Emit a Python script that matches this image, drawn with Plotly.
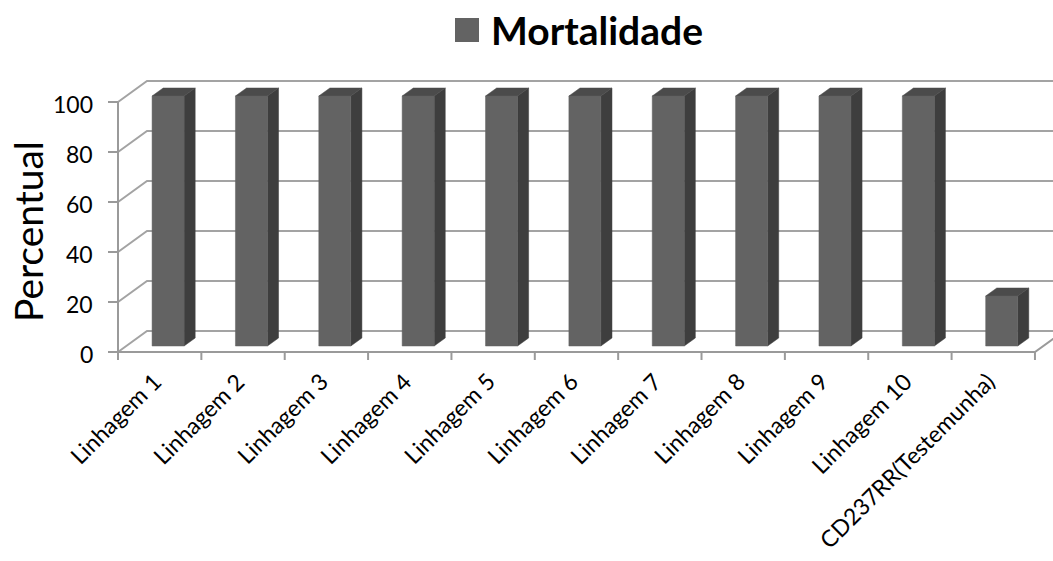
import plotly.graph_objects as go

# ---- data ----
categories = [
    "Linhagem 1", "Linhagem 2", "Linhagem 3", "Linhagem 4", "Linhagem 5",
    "Linhagem 6", "Linhagem 7", "Linhagem 8", "Linhagem 9", "Linhagem 10",
    "CD237RR(Testemunha)",
]
mortalidade = [100, 100, 100, 100, 100, 100, 100, 100, 100, 100, 20]
y_ticks = [0, 20, 40, 60, 80, 100]
series_name = "Mortalidade"
y_title = "Percentual"

# ---- canvas and pseudo-3D geometry (pixels -> axis units) ----
W, H = 1053, 561
PX_LEFT = 118      # front-left corner of the floor
PX_CAT = 83.36     # width of one category slot
PX_BASE = 352      # pixel row of value 0 on the front plane
PX_UNIT = 2.5      # pixels per percent

x_range = [-0.5 - PX_LEFT / PX_CAT, -0.5 + (W - PX_LEFT) / PX_CAT]
y_range = [-(H - PX_BASE) / PX_UNIT, PX_BASE / PX_UNIT]


def ux(px):
    return px / PX_CAT


def uy(px):
    return px / PX_UNIT


DEPTH = (ux(29), uy(21))        # offset from front plane to back wall
BAR_FRONT = (ux(8.4), uy(6))    # bar front face depth offset
BAR_BACK = (ux(19.5), uy(14))   # bar back face depth offset
BAR_HALF = ux(16)               # half width of a bar

FONT = "Lato, Carlito, Calibri, sans-serif"
GRID = "#a3a3a3"
AXIS = "#9a9a9a"
C_FRONT = "#636363"
C_SIDE = "#3e3e3e"
C_TOP = "#4b4b4b"

n = len(categories)
x_left, x_right = -0.5, n - 0.5

fig = go.Figure()

# back wall gridlines + left wall diagonals
gx, gy = [], []
for t in y_ticks:
    gx += [x_left, x_left + DEPTH[0], x_right + DEPTH[0], None]
    gy += [t, t + DEPTH[1], t + DEPTH[1], None]
fig.add_trace(go.Scatter(x=gx, y=gy, mode="lines",
                         line=dict(color=GRID, width=2), hoverinfo="skip"))

# front axis lines, floor edge and ticks
ax, ay = [], []
ax += [x_left, x_left, None]
ay += [y_ticks[0], y_ticks[-1], None]
ax += [x_left, x_right, x_right + DEPTH[0], None]
ay += [0, 0, DEPTH[1], None]
for t in y_ticks:
    ax += [x_left - ux(10), x_left, None]
    ay += [t, t, None]
for k in range(n + 1):
    ax += [k - 0.5, k - 0.5, None]
    ay += [0, -uy(8), None]
fig.add_trace(go.Scatter(x=ax, y=ay, mode="lines",
                         line=dict(color=AXIS, width=2), hoverinfo="skip"))

# bars: front, side and top faces
fx, fy, sx, sy, tx, ty = [], [], [], [], [], []
for i, v in enumerate(mortalidade):
    xl = i + BAR_FRONT[0] - BAR_HALF
    xr = i + BAR_FRONT[0] + BAR_HALF
    yb = BAR_FRONT[1]
    ddx = BAR_BACK[0] - BAR_FRONT[0]
    ddy = BAR_BACK[1] - BAR_FRONT[1]
    fx += [xl, xr, xr, xl, xl, None]
    fy += [yb, yb, yb + v, yb + v, yb, None]
    sx += [xr, xr + ddx, xr + ddx, xr, xr, None]
    sy += [yb, yb + ddy, yb + ddy + v, yb + v, yb, None]
    tx += [xl, xl + ddx, xr + ddx, xr, xl, None]
    ty += [yb + v, yb + ddy + v, yb + ddy + v, yb + v, yb + v, None]

for px_, py_, col in ((sx, sy, C_SIDE), (tx, ty, C_TOP), (fx, fy, C_FRONT)):
    fig.add_trace(go.Scatter(x=px_, y=py_, mode="lines", fill="toself",
                             fillcolor=col, line=dict(color=col, width=0.5),
                             hoverinfo="skip"))

annotations = []
# y tick labels
for t in y_ticks:
    annotations.append(dict(x=x_left, y=t, xref="x", yref="y", text=str(t),
                            showarrow=False, xanchor="right", yanchor="middle",
                            xshift=-23, yshift=-2,
                            font=dict(family=FONT, size=23, color="#000")))
# category labels
for i, c in enumerate(categories):
    annotations.append(dict(x=i, y=-uy(12), xref="x", yref="y", text=c,
                            showarrow=False, textangle=-45,
                            xanchor="right", yanchor="top", xshift=10,
                            font=dict(family=FONT, size=23, color="#000")))
# axis title
annotations.append(dict(x=28 / W, y=1 - 232 / H, xref="paper", yref="paper",
                        text=y_title, showarrow=False, textangle=-90,
                        xanchor="center", yanchor="middle",
                        font=dict(family=FONT, size=39, color="#000")))
# legend
annotations.append(dict(x=489 / W, y=1 - 30 / H, xref="paper", yref="paper",
                        text="<b>" + series_name + "</b>", showarrow=False,
                        xanchor="left", yanchor="middle",
                        font=dict(family=FONT, size=39, color="#000")))

fig.update_layout(
    width=W, height=H,
    margin=dict(l=0, r=0, t=0, b=0),
    paper_bgcolor="white", plot_bgcolor="white",
    showlegend=False,
    xaxis=dict(range=x_range, visible=False, fixedrange=True),
    yaxis=dict(range=y_range, visible=False, fixedrange=True),
    annotations=annotations,
    shapes=[dict(type="rect", xref="paper", yref="paper",
                 x0=455 / W, x1=479 / W, y0=1 - 42 / H, y1=1 - 18 / H,
                 fillcolor=C_FRONT, line=dict(width=0))],
)

fig.write_html("out.html")
